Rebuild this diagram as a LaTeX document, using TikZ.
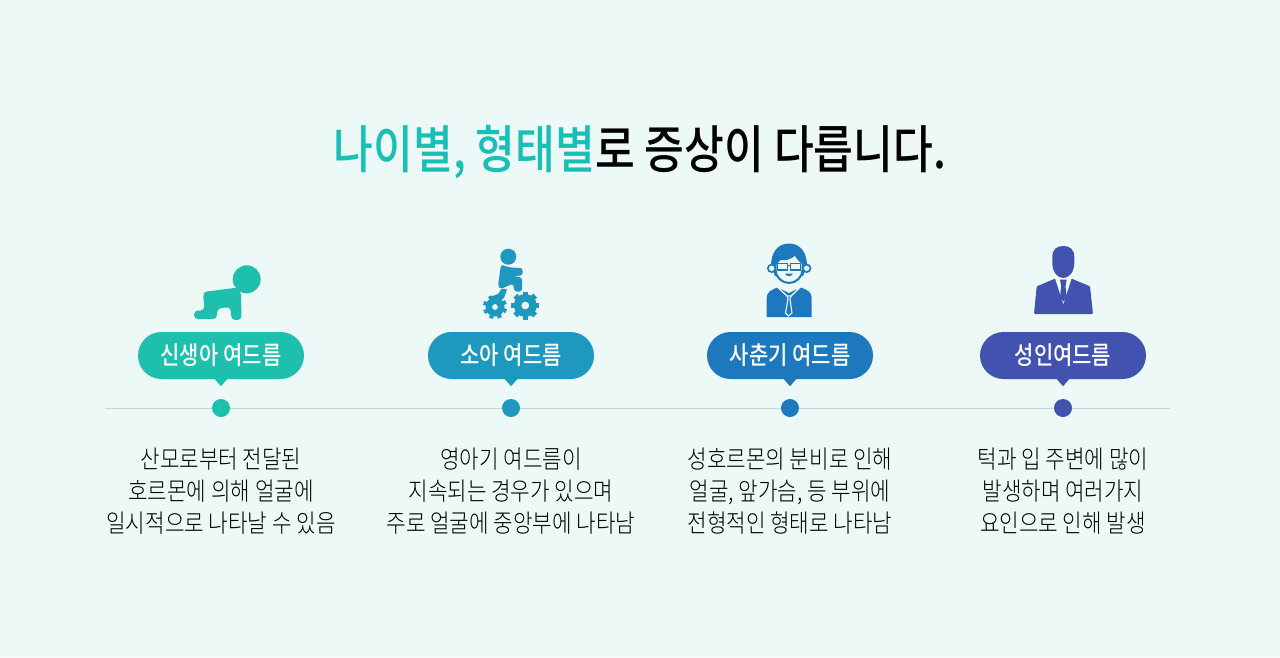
\documentclass[tikz,border=0pt]{standalone}
\usepackage{fontspec}
\setmainfont{Noto Sans CJK KR}
\newfontfamily\titlefont[FakeStretch=0.84]{Noto Sans CJK KR Medium}
\newfontfamily\pillfont[FakeStretch=0.84]{Noto Sans CJK KR Medium}
\newfontfamily\bodyfont[FakeStretch=0.85]{Noto Sans CJK KR Light}
\usepackage{xcolor}
\usepackage{tikz}
\usetikzlibrary{shapes.misc}
\definecolor{pagebg}{HTML}{ECF9F7}
\definecolor{babycol}{HTML}{1FBFAD}
\definecolor{childcol}{HTML}{1E98BF}
\definecolor{teencol}{HTML}{1E78BE}
\definecolor{adultcol}{HTML}{4152AF}
\definecolor{titlecol}{HTML}{18BFB5}
\definecolor{railcol}{HTML}{C9D4D4}
\tikzset{
	pill/.style={rounded rectangle,minimum width=166pt,minimum height=47pt,inner sep=0pt,text=white,font=\pillfont\fontsize{25}{28}\selectfont},
	marker/.style={circle,minimum size=18pt,inner sep=0pt},
	blurb/.style={align=center,inner sep=0pt,text=black,font=\bodyfont\fontsize{25}{32}\selectfont}
}

\begin{document}
\begin{tikzpicture}[x=1pt,y=-1pt]
			\useasboundingbox[fill=pagebg] (0,0) rectangle (1280,657);
			\node[inner sep=0pt,font=\titlefont\fontsize{51.5}{56}\selectfont] (title) at (640,152) {\textcolor{titlecol}{나이별, 형태별}로 증상이 다릅니다.};
			% rail
			\coordinate (railleft) at (105,408);
			\coordinate (railright) at (1170,408);
			\draw[railcol,line width=1pt] (railleft) -- (railright);
			\node[marker,fill=babycol] (dotbaby) at (221,408) {};
			\node[marker,fill=childcol] (dotchild) at (511,408) {};
			\node[marker,fill=teencol] (dotteen) at (790,408) {};
			\node[marker,fill=adultcol] (dotadult) at (1063,408) {};
			% pills
			\node[pill,fill=babycol] (pillbaby) at (221,355.5) {신생아 여드름};
			\node[pill,fill=childcol] (pillchild) at (511,355.5) {소아 여드름};
			\node[pill,fill=teencol] (pillteen) at (790,355.5) {사춘기 여드름};
			\node[pill,fill=adultcol] (pilladult) at (1063,355.5) {성인여드름};
			\fill[babycol] ([xshift=-7pt,yshift=1pt]pillbaby.south) -- ([xshift=7pt,yshift=1pt]pillbaby.south) -- ([yshift=-7pt]pillbaby.south) -- cycle;
			\fill[childcol] ([xshift=-7pt,yshift=1pt]pillchild.south) -- ([xshift=7pt,yshift=1pt]pillchild.south) -- ([yshift=-7pt]pillchild.south) -- cycle;
			\fill[teencol] ([xshift=-7pt,yshift=1pt]pillteen.south) -- ([xshift=7pt,yshift=1pt]pillteen.south) -- ([yshift=-7pt]pillteen.south) -- cycle;
			\fill[adultcol] ([xshift=-7pt,yshift=1pt]pilladult.south) -- ([xshift=7pt,yshift=1pt]pilladult.south) -- ([yshift=-7pt]pilladult.south) -- cycle;
			% texts
			\node[blurb] (textbaby) at (221,491.5) {산모로부터 전달된\\호르몬에 의해 얼굴에\\일시적으로 나타날 수 있음};
			\node[blurb] (textchild) at (511,491.5) {영아기 여드름이\\지속되는 경우가 있으며\\주로 얼굴에 중앙부에 나타남};
			\node[blurb] (textteen) at (790,491.5) {성호르몬의 분비로 인해\\얼굴, 앞가슴, 등 부위에\\전형적인 형태로 나타남};
			\node[blurb] (textadult) at (1063,491.5) {턱과 입 주변에 많이\\발생하며 여러가지\\요인으로 인해 발생};
			% baby
			\fill[babycol] (246.7,279.3) circle (14);
			\fill[babycol,rounded corners=4pt] (204.5,310.5) -- (203,292) -- (238,287.5) -- (241,292) -- (241.5,320) -- (231.5,320) -- (230.5,307) -- (217,308.5) -- (217,319) -- (194,319) -- (194,310.5) -- cycle;
			% child
			\fill[childcol] (508.3,256.7) circle (8);
			\fill[childcol,rounded corners=2.5pt] (501,264.5) -- (510,267.5) -- (522.5,268) -- (522.5,275.5) -- (513,276) -- (522,277.5) -- (522,291.5) -- (514.5,291.5) -- (513,283.5) -- (501,289) -- (498,286) -- cycle;
			\fill[childcol] (490,297) -- (498,294) -- (502,288.5) -- (507,289.5) -- (504,298) -- (498,303) -- cycle;
			\fill[childcol,even odd rule] (495,307) circle (9.5) (495,307) circle (3);
			\fill[childcol,even odd rule] (525.3,305.5) circle (11.5) (525.3,305.5) circle (4);
			\foreach \a in {0,45,...,315} {
				\draw[childcol,line width=4pt] (495,307) ++(\a+20:8) -- ++(\a+20:4);
				\draw[childcol,line width=5.5pt] (525.3,305.5) ++(\a:10) -- ++(\a:4);
			}
			% teen
			\fill[teencol] (766.7,317) -- (766.7,298) .. controls (766.7,292) and (771,290) .. (777.3,287.5) -- (789,293) -- (800.7,287.5) .. controls (807.5,290) and (811.7,292) .. (811.7,298) -- (811.7,317) -- cycle;
			\draw[pagebg,line width=1.3pt] (777.5,287) -- (787,296) -- (791,296) -- (800.5,287);
			\draw[pagebg,line width=1.1pt,line join=round] (787,296) -- (788,299) -- (785.5,313) -- (788.5,316) -- (792,313) -- (790,299) -- (791,296);
			\fill[teencol] (771,266) .. controls (771,252) and (778,243.5) .. (789,243.5) .. controls (800,243.5) and (807,252) .. (807,266) -- (803,276) -- (775,276) -- cycle;
			\draw[teencol,fill=pagebg,line width=1.7pt] (771.7,268.3) circle (3.8);
			\draw[teencol,fill=pagebg,line width=1.7pt] (806.7,268.3) circle (3.8);
			\draw[teencol,fill=pagebg,line width=2pt] (775.5,264) -- (780,259) .. controls (786,260) and (792,258) .. (795,254) .. controls (797,258) and (800,261) .. (802.5,263) -- (802.5,270) .. controls (802.5,277) and (796,283) .. (789,283) .. controls (782,283) and (775.5,277) .. (775.5,270) -- cycle;
			\draw[teencol,line width=1.4pt] (777.5,263.5) rectangle (787.5,270) (790.5,263.5) rectangle (800.5,270) (787.5,265.5) -- (790.5,265.5);
			\fill[teencol] (785,273.5) .. controls (786,277) and (792,277) .. (793,273.5) -- cycle;
			% adult
			\fill[adultcol,rounded corners=1pt] (1034,314) -- (1036.7,286.3) -- (1055,278.7) -- (1071.7,278.7) -- (1090,286.3) -- (1093,314) -- cycle;
			\fill[pagebg] (1055,278.2) -- (1063.3,304) -- (1071.7,278.2) -- cycle;
			\fill[adultcol] (1060,279.7) -- (1066.7,279.7) -- (1065.5,286) -- (1066.7,297) -- (1063.3,301.5) -- (1060,297) -- (1061.2,286) -- cycle;
			\fill[adultcol] (1052.3,257) .. controls (1052.3,249) and (1057,246) .. (1063.3,246) .. controls (1069.5,246) and (1074.3,249) .. (1074.3,257) -- (1074.3,263) .. controls (1074.3,272) and (1069,278) .. (1063.3,278) .. controls (1057.5,278) and (1052.3,272) .. (1052.3,263) -- cycle;
			\end{tikzpicture}
\end{document}
